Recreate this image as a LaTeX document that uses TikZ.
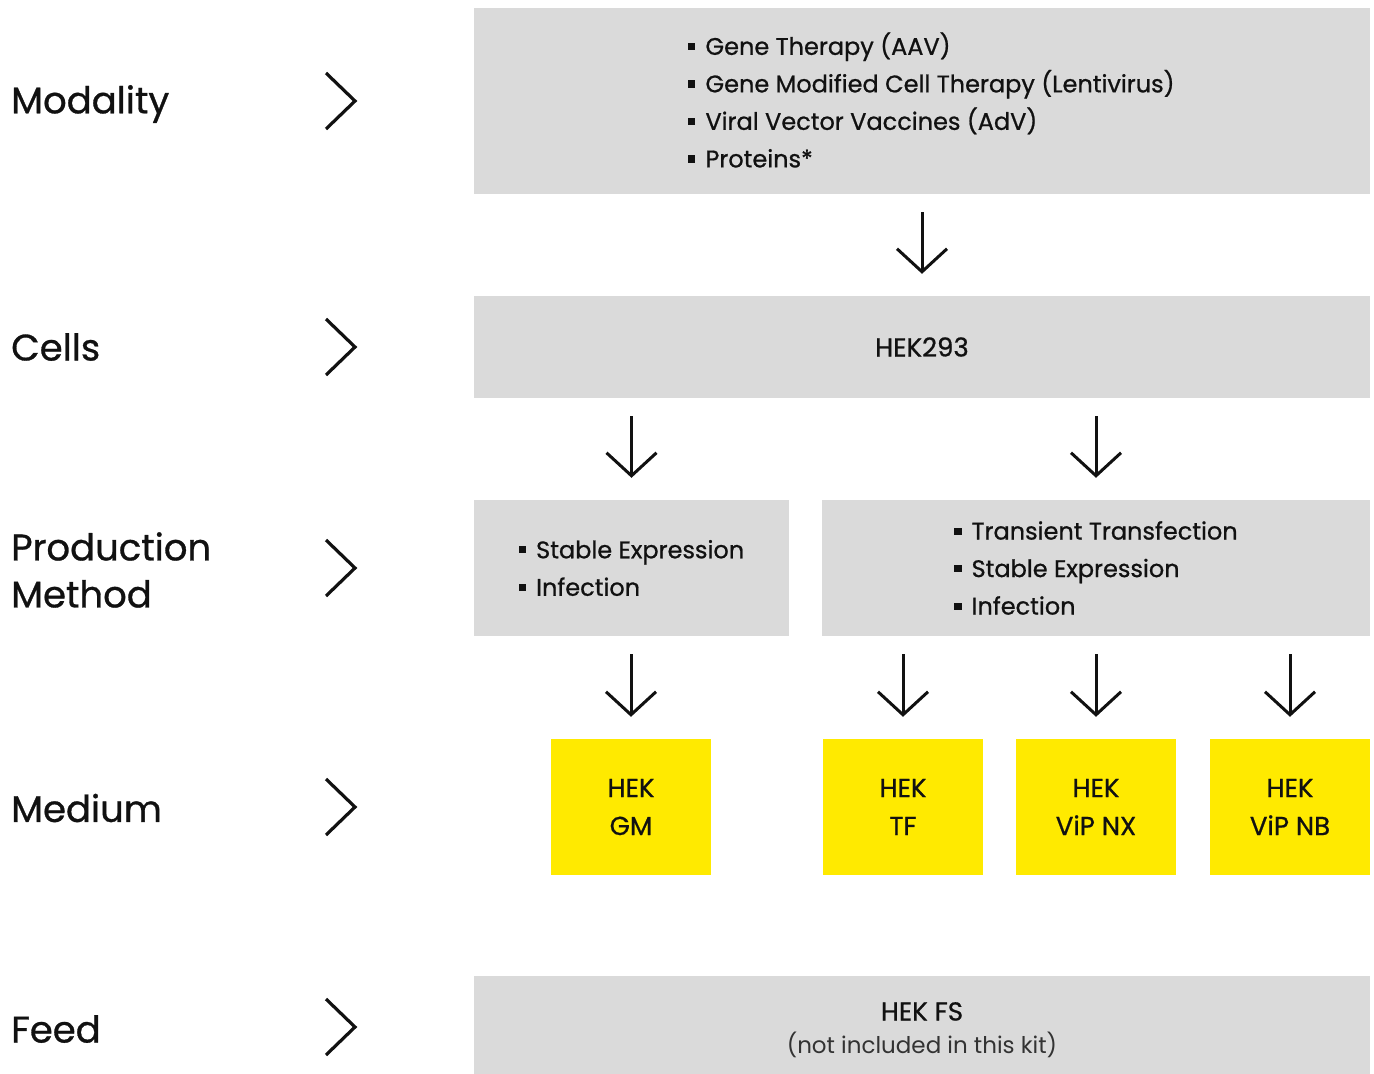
\documentclass[tikz,border=0pt]{standalone}
\usepackage{fontspec}
\setmainfont{Poppins}[UprightFeatures={FakeBold=0.8}]
\newfontfamily\lightfont{Poppins}
\usetikzlibrary{arrows.meta,calc}
\definecolor{boxgray}{HTML}{DADADA}
\definecolor{hekyellow}{HTML}{FFEA00}
\definecolor{ink}{HTML}{111111}
\definecolor{softink}{HTML}{333333}
\newcommand\sqb{\rule[0.2em]{0.3em}{0.3em}\hspace{0.42em}}
\begin{document}
\begin{tikzpicture}[x=1pt,y=-1pt,
  graybox/.style={fill=boxgray, draw=none, inner sep=0pt},
  yellowbox/.style={fill=hekyellow, draw=none, inner sep=0pt, minimum width=160, minimum height=136,
     align=center, font=\fontsize{26}{38}\selectfont, text=ink},
  rowlabel/.style={anchor=west, inner sep=0pt, font=\fontsize{37}{47}\selectfont, align=left, text=ink},
  boxtext/.style={inner sep=0pt, font=\fontsize{24}{37.5}\selectfont, align=left, text=ink},
  chev/.style={line width=3.2pt, draw=ink, line join=miter},
  downarrow/.style={line width=3pt, draw=ink, -{Straight Barb[length=23pt,width=50pt]}},
]
\useasboundingbox (0,0) rectangle (1374,1074);

% boxes
\node[graybox, minimum width=896, minimum height=186] (mod) at (922,101) {};
\node[graybox, minimum width=896, minimum height=102] (cells) at (922,347) {};
\node[graybox, minimum width=315, minimum height=136] (prodL) at (631.5,568) {};
\node[graybox, minimum width=548, minimum height=136] (prodR) at (1096,568) {};
\node[graybox, minimum width=896, minimum height=98] (feed) at (922,1025) {};

\node[yellowbox] (gm) at (631,807) {HEK\\GM};
\node[yellowbox] (tf) at (903,807) {HEK\\TF};
\node[yellowbox] (nx) at (1096,807) {HEK\\ViP NX};
\node[yellowbox] (nb) at (1290,807) {HEK\\ViP NB};

% box texts
\node[boxtext, anchor=west] (modtxt) at (688,100) {\sqb Gene Therapy (AAV)\\\sqb Gene Modified Cell Therapy (Lentivirus)\\\sqb Viral Vector Vaccines (AdV)\\\sqb Proteins*};
\node[boxtext, font=\fontsize{26}{37.5}\selectfont] (celltxt) at (cells.center) {HEK293};
\node[boxtext] (prodLtxt) at (prodL.center) {\sqb Stable Expression\\\sqb Infection};
\node[boxtext] (prodRtxt) at (prodR.center) {\sqb Transient Transfection\\\sqb Stable Expression\\\sqb Infection};
\node[inner sep=0pt, align=center, text=ink, font=\fontsize{23}{33}\selectfont] (feedtxt) at (922,1030)
  {{\fontsize{26}{33}\selectfont HEK FS}\\{\lightfont\color{softink}(not included in this kit)}};

% row labels
\node[rowlabel] (lmod) at (11,104) {Modality};
\node[rowlabel] (lcells) at (11,347) {Cells};
\node[rowlabel] (lprod) at (11,570) {Production\\Method};
\node[rowlabel] (lmed) at (11,808) {Medium};
\node[rowlabel] (lfeed) at (11,1029) {Feed};

% chevrons
\foreach \yy in {101,347,568,807,1027}{
  \draw[chev] (326,\yy-28) -- (355,\yy) -- (326,\yy+28);
}

% arrows
\draw[downarrow] ($(mod.south)+(0,18)$) -- ($(cells.north)+(0,-22)$);
\draw[downarrow] ($(cells.south -| prodL.center)+(0,18)$) -- ($(prodL.north)+(0,-22)$);
\draw[downarrow] ($(cells.south -| prodR.center)+(0,18)$) -- ($(prodR.north)+(0,-22)$);
\draw[downarrow] ($(prodL.south -| gm.center)+(0,18)$) -- ($(gm.north)+(0,-22)$);
\draw[downarrow] ($(prodR.south -| tf.center)+(0,18)$) -- ($(tf.north)+(0,-22)$);
\draw[downarrow] ($(prodR.south -| nx.center)+(0,18)$) -- ($(nx.north)+(0,-22)$);
\draw[downarrow] ($(prodR.south -| nb.center)+(0,18)$) -- ($(nb.north)+(0,-22)$);
\end{tikzpicture}
\end{document}
